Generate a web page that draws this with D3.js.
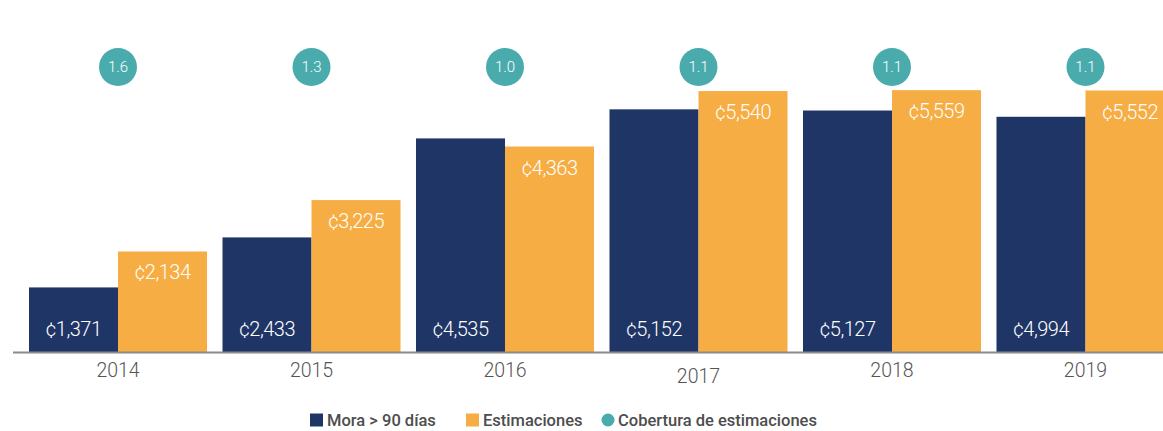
<!DOCTYPE html>
<html lang="es">
  <head>
    <meta charset="UTF-8" />
    <title>Mora y estimaciones</title>
    <style>
      body {
        margin: 0;
        background: #fff;
      }
      svg text {
        font-family: Roboto, "Noto Sans", sans-serif;
      }
    </style>
  </head>
  <body>
    <svg width="1163" height="431" id="chart"></svg>

    <script src="https://d3js.org/d3.v7.min.js"></script>
    <script>
      var years = ["2014", "2015", "2016", "2017", "2018", "2019"];
      var mora = [1371, 2433, 4535, 5152, 5127, 4994];
      var estimaciones = [2134, 3225, 4363, 5540, 5559, 5552];
      var cobertura = ["1.6", "1.3", "1.0", "1.1", "1.1", "1.1"];
      var legendLabels = ["Mora > 90 días", "Estimaciones", "Cobertura de estimaciones"];

      var navy = "#1f3566",
        orange = "#f6ad43",
        teal = "#4aabad";

      var svg = d3.select("#chart");
      var baseY = 352;

      // step ~193.5px, bars 89px each
      var x = d3.scaleBand().domain(years).range([29, 1174.5]).paddingInner(0.08).paddingOuter(0);
      var sub = d3.scaleBand().domain(["mora", "est"]).range([0, x.bandwidth()]);
      var y = d3.scaleLinear().domain([0, 5552]).range([baseY, 90.5]);

      var rows = years.map(function (yr, i) {
        return { year: yr, mora: mora[i], est: estimaciones[i], cob: cobertura[i] };
      });

      var g = svg.selectAll("g.year").data(rows).join("g")
        .attr("class", "year")
        .attr("transform", function (d) { return "translate(" + x(d.year) + ",0)"; });

      g.append("rect")
        .attr("x", sub("mora"))
        .attr("width", sub.bandwidth())
        .attr("y", function (d) { return y(d.mora); })
        .attr("height", function (d) { return baseY - y(d.mora); })
        .attr("fill", navy);

      g.append("rect")
        .attr("x", sub("est"))
        .attr("width", sub.bandwidth())
        .attr("y", function (d) { return y(d.est); })
        .attr("height", function (d) { return baseY - y(d.est); })
        .attr("fill", orange);

      var fmt = d3.format(",");

      g.append("text")
        .attr("x", sub("mora") + sub.bandwidth() / 2)
        .attr("y", baseY - 16)
        .attr("text-anchor", "middle")
        .attr("fill", "#fff")
        .attr("font-size", 20)
        .attr("font-weight", 300)
        .attr("letter-spacing", -0.5)
        .text(function (d) { return "¢" + fmt(d.mora); });

      g.append("text")
        .attr("x", sub("est") + sub.bandwidth() / 2)
        .attr("y", function (d) { return y(d.est) + 28; })
        .attr("text-anchor", "middle")
        .attr("fill", "#fff")
        .attr("font-size", 20)
        .attr("font-weight", 300)
        .attr("letter-spacing", -0.5)
        .text(function (d) { return "¢" + fmt(d.est); });

      g.append("circle")
        .attr("cx", x.bandwidth() / 2)
        .attr("cy", 67)
        .attr("r", 19)
        .attr("fill", teal);

      g.append("text")
        .attr("x", x.bandwidth() / 2)
        .attr("y", 72)
        .attr("text-anchor", "middle")
        .attr("fill", "#fff")
        .attr("font-size", 15)
        .attr("font-weight", 300)
        .text(function (d) { return d.cob; });

      // axis
      var axis = svg.append("g")
        .attr("transform", "translate(0," + baseY + ")")
        .call(d3.axisBottom(x).tickSize(0).tickPadding(11));
      axis.select(".domain").attr("d", "M13,0.5H1163").attr("stroke", "#8a8a8a").attr("stroke-width", 2);
      axis.selectAll("text")
        .attr("font-family", "Roboto, sans-serif")
        .attr("font-size", 19.5)
        .attr("font-weight", 300)
        .attr("fill", "#555");
      // the 2017 label sits a little lower in the original
      axis.selectAll(".tick text").filter(function (d) { return d === "2017"; }).attr("dy", "1.0em");

      // legend
      var legendX = [310, 466, 608];
      var legendColors = [navy, orange, teal];
      var lg = svg.selectAll("g.legend").data(legendLabels).join("g")
        .attr("class", "legend")
        .attr("transform", function (d, i) { return "translate(" + legendX[i] + ",420)"; });
      lg.each(function (d, i) {
        var el = d3.select(this);
        if (i === 2) {
          el.append("circle").attr("cx", 0).attr("cy", 0).attr("r", 6.5).attr("fill", legendColors[i]);
        } else {
          el.append("rect").attr("x", 0).attr("y", -6.5).attr("width", 13).attr("height", 13).attr("fill", legendColors[i]);
        }
      });
      lg.append("text")
        .attr("x", function (d, i) { return i === 2 ? 10 : 17; })
        .attr("y", 6)
        .attr("font-size", 16.5)
        .attr("font-weight", 500)
        .attr("fill", "#4d4d4d")
        .text(function (d) { return d; });
    </script>
  </body>
</html>
